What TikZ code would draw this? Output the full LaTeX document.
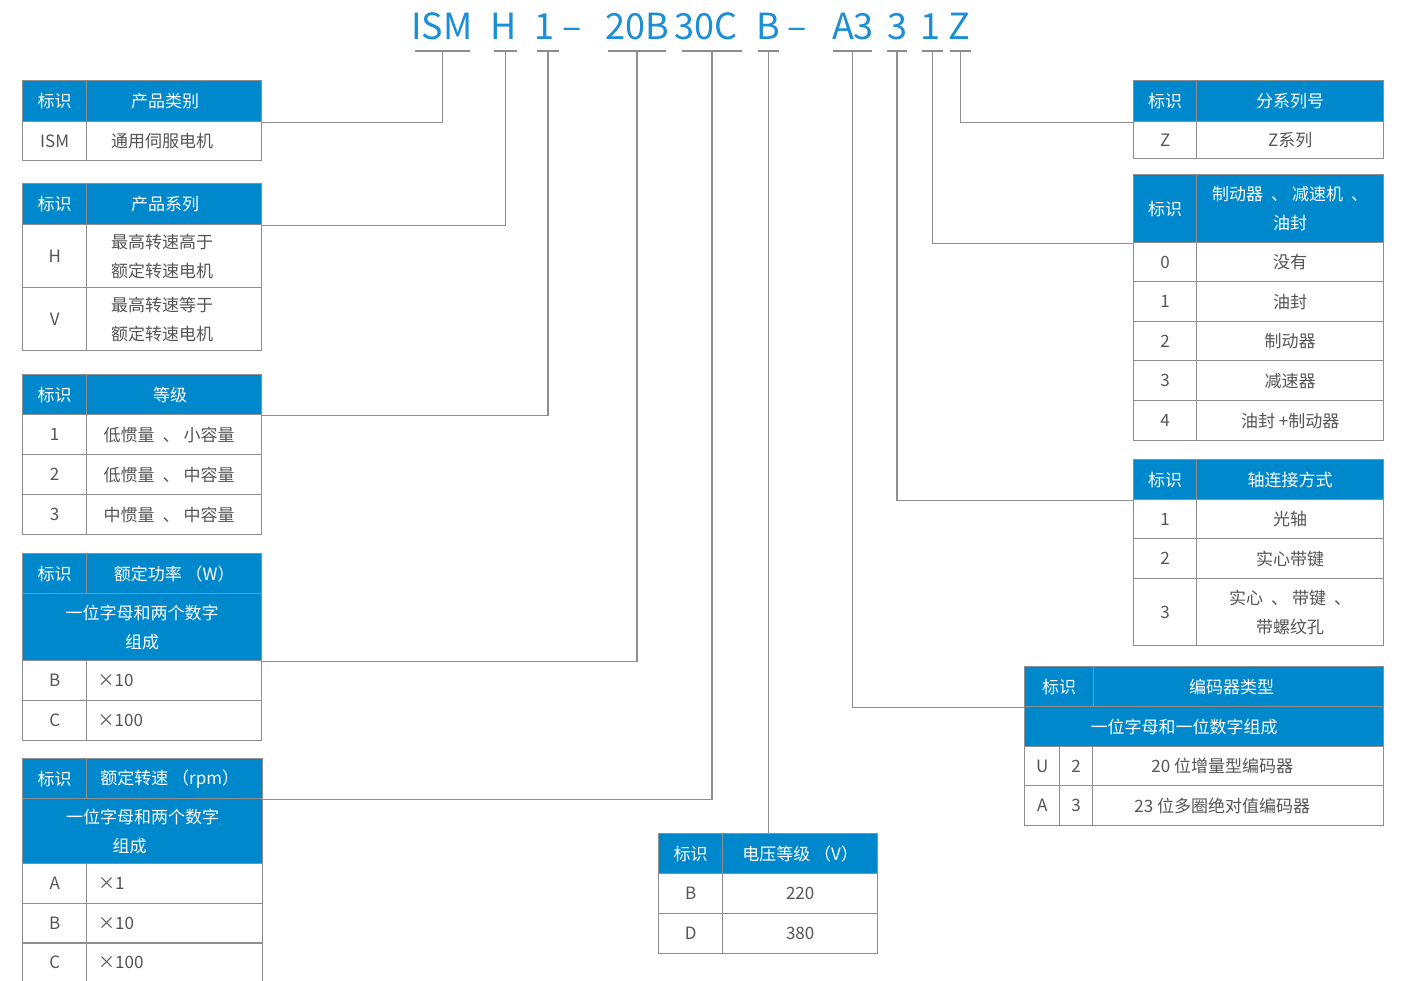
\documentclass[tikz,border=0pt]{standalone}
\usepackage{fontspec}
\setmainfont{Noto Sans CJK SC}
\definecolor{hdblue}{HTML}{0088CC}
\definecolor{codeblue}{HTML}{1A8ED6}
\definecolor{gridgray}{HTML}{8E8E8E}
\definecolor{txtgray}{HTML}{555555}
\newcommand\tabfont{\fontsize{17}{29}\selectfont}
\newcommand\codefont{\fontsize{36}{40}\selectfont}
\newcommand\sepmark{\hspace{8pt}、\hspace{4pt}}
\tikzset{
  cell/.style={draw=gridgray, line width=1.4pt, anchor=north west, inner sep=0pt,
    align=center, text=txtgray, font=\tabfont},
  hcell/.style={cell, fill=hdblue, text=white},
  lcell/.style={cell, text width=153pt, align=left, inner xsep=11pt},
  lft/.style={execute at end node={\hspace*{#1}}},
  code/.style={text=codeblue, font=\codefont, inner sep=0pt, anchor=base},
  link/.style={draw=gridgray, line width=1.2pt},
}
\begin{document}
\begin{tikzpicture}[x=1pt, y=-1pt]
\useasboundingbox[fill=white] (0,0) rectangle (1402,980);

% model code
\foreach \n/\t/\c/\a/\b in {ism/ISM/442/415/470, h/H/504/494/517, one/1/544.5/537/559,
    pw/20B/637/608/666, sp/30C/706/682/742, vo/B/768/758/779, en/A3/853/833/872,
    sh/3/897.5/887/907, br/1/930/922/943, z/Z/959/950/971} {
  \node[code] (c\n) at (\c,39) {\t};
  \draw[link] (\a,51) -- coordinate (u\n) (\b,51);
}
\node[code] (dash1) at (572.5,39) {–};
\node[code] (dash2) at (797.5,39) {–};

% left column
\node[hcell, minimum width=64, minimum height=41] (t1id) at (22,80) {标识};
\node[hcell, lft=18pt, minimum width=175, minimum height=41] (t1hd) at (86,80) {产品类别};
\node[cell, minimum width=64, minimum height=39] (t1k1) at (22,121) {ISM};
\node[cell, lft=24pt, minimum width=175, minimum height=39] (t1v1) at (86,121) {通用伺服电机};

\node[hcell, minimum width=64, minimum height=41] (t2id) at (22,183) {标识};
\node[hcell, lft=18pt, minimum width=175, minimum height=41] (t2hd) at (86,183) {产品系列};
\foreach \y/\k/\v [count=\i] in {224/H/{最高转速高于\hspace*{24pt}\\额定转速电机\hspace*{24pt}},
    287/V/{最高转速等于\hspace*{24pt}\\额定转速电机\hspace*{24pt}}} {
  \node[cell, minimum width=64, minimum height=63] (t2k\i) at (22,\y) {\k};
  \node[cell, minimum width=175, minimum height=63] (t2v\i) at (86,\y) {\v};
}

\node[hcell, minimum width=64, minimum height=40] (t3id) at (22,374) {标识};
\node[hcell, lft=8pt, minimum width=175, minimum height=40] (t3hd) at (86,374) {等级};
\foreach \y/\k/\v [count=\i] in {414/1/{低惯量\sepmark 小容量}, 454/2/{低惯量\sepmark 中容量}, 494/3/{中惯量\sepmark 中容量}} {
  \node[cell, minimum width=64, minimum height=40] (t3k\i) at (22,\y) {\k};
  \node[cell, lft=10pt, minimum width=175, minimum height=40] (t3v\i) at (86,\y) {\v};
}

\node[hcell, minimum width=64, minimum height=40] (t4id) at (22,553) {标识};
\node[hcell, minimum width=175, minimum height=40] (t4hd) at (86,553) {额定功率 （W）};
\node[hcell, minimum width=239, minimum height=67] (t4sub) at (22,593) {一位字母和两个数字\\组成};
\foreach \y/\k/\v [count=\i] in {660/B/×10, 700/C/×100} {
  \node[cell, minimum width=64, minimum height=40] (t4k\i) at (22,\y) {\k};
  \node[lcell, minimum width=175, minimum height=40] (t4v\i) at (86,\y) {\v};
}

\node[hcell, minimum width=64, minimum height=40] (t5id) at (22,758) {标识};
\node[hcell, lft=10pt, minimum width=176, minimum height=40] (t5hd) at (86,758) {额定转速 （rpm）};
\node[hcell, minimum width=240, minimum height=65] (t5sub) at (22,798) {一位字母和两个数字\\组成\hspace*{26pt}};
\foreach \y/\k/\v [count=\i] in {863/A/×1, 903/B/×10, 942/C/×100} {
  \node[cell, minimum width=64, minimum height=40] (t5k\i) at (22,\y) {\k};
  \node[lcell, minimum width=176, minimum height=40] (t5v\i) at (86,\y) {\v};
}

% voltage
\node[hcell, minimum width=64, minimum height=40] (tvid) at (658,833) {标识};
\node[hcell, minimum width=155, minimum height=40] (tvhd) at (722,833) {电压等级 （V）};
\foreach \y/\k/\v [count=\i] in {873/B/220, 913/D/380} {
  \node[cell, minimum width=64, minimum height=40] (tvk\i) at (658,\y) {\k};
  \node[cell, minimum width=155, minimum height=40] (tvv\i) at (722,\y) {\v};
}

% right column
\node[hcell, minimum width=63, minimum height=41] (tzid) at (1133,80) {标识};
\node[hcell, minimum width=187, minimum height=41] (tzhd) at (1196,80) {分系列号};
\node[cell, minimum width=63, minimum height=37] (tzk1) at (1133,121) {Z};
\node[cell, minimum width=187, minimum height=37] (tzv1) at (1196,121) {Z系列};

\node[hcell, minimum width=63, minimum height=68] (tbid) at (1133,174) {标识};
\node[hcell, minimum width=187, minimum height=68] (tbhd) at (1196,174) {制动器\sepmark 减速机\sepmark\\油封};
\foreach \y/\h/\k/\v [count=\i] in {242/39/0/没有, 281/40/1/油封, 321/39/2/制动器, 360/40/3/减速器, 400/40/4/{油封 +制动器}} {
  \node[cell, minimum width=63, minimum height=\h] (tbk\i) at (1133,\y) {\k};
  \node[cell, minimum width=187, minimum height=\h] (tbv\i) at (1196,\y) {\v};
}

\node[hcell, minimum width=63, minimum height=40] (tsid) at (1133,459) {标识};
\node[hcell, minimum width=187, minimum height=40] (tshd) at (1196,459) {轴连接方式};
\foreach \y/\h/\k/\v [count=\i] in {499/39/1/光轴, 538/40/2/实心带键, 578/67/3/{实心\sepmark 带键\sepmark\\带螺纹孔}} {
  \node[cell, minimum width=63, minimum height=\h] (tsk\i) at (1133,\y) {\k};
  \node[cell, minimum width=187, minimum height=\h] (tsv\i) at (1196,\y) {\v};
}

\node[hcell, minimum width=69, minimum height=40] (teid) at (1024,666) {标识};
\node[hcell, minimum width=290, minimum height=40] (tehd) at (1093,666) {编码器类型\hspace*{14pt}};
\node[hcell, minimum width=359, minimum height=40] (tesub) at (1024,706) {一位字母和一位数字组成\hspace*{40pt}};
\foreach \y/\h/\k/\d/\v [count=\i] in {746/39/U/2/{20 位增量型编码器}, 785/40/A/3/{23 位多圈绝对值编码器}} {
  \node[cell, minimum width=35, minimum height=\h] (tek\i) at (1024,\y) {\k};
  \node[cell, minimum width=33, minimum height=\h] (ted\i) at (1059,\y) {\d};
  \node[cell, minimum width=291, minimum height=\h] (tev\i) at (1092,\y) {\v\hspace*{32pt}};
}

% connectors
\draw[link] (uism) |- (t1hd.south east);
\draw[link] (uh) |- (t2hd.south east);
\draw[link] (uone) |- (t3hd.south east);
\draw[link] (upw) |- (t4sub.south east);
\draw[link] (usp) |- (t5hd.south east);
\draw[link] (uvo) -- (uvo |- tvhd.north);
\draw[link] (uen) |- (teid.south west);
\draw[link] (ush) |- (tsid.south west);
\draw[link] (ubr) |- (tbid.south west);
\draw[link] (uz) |- (tzid.south west);
\end{tikzpicture}
\end{document}
